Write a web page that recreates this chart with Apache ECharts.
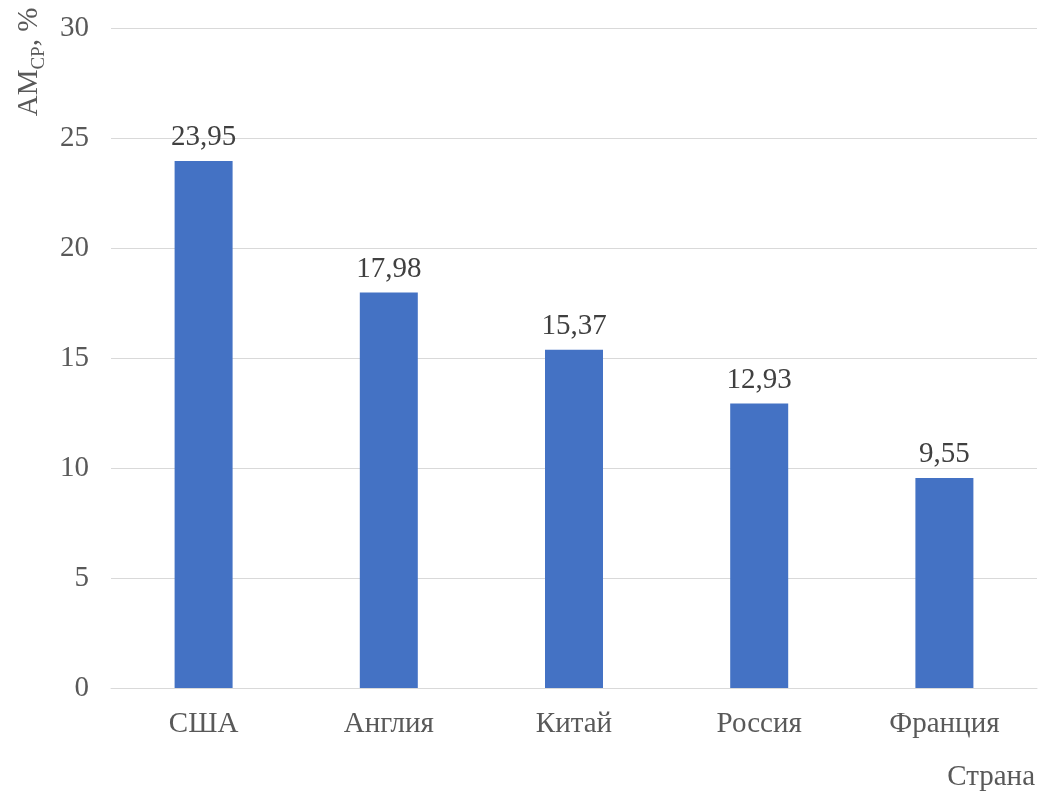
<!DOCTYPE html>
<html><head><meta charset="utf-8">
<script src="https://cdn.jsdelivr.net/npm/echarts@6/dist/echarts.min.js"></script>
<style>html,body{margin:0;padding:0;background:#fff}#c{width:1038px;height:793px}</style>
</head><body><div id="c"></div>
<script>
const categories = ['США', 'Англия', 'Китай', 'Россия', 'Франция'];
const values = [23.95, 17.98, 15.37, 12.93, 9.55];
const yTicks = [0, 5, 10, 15, 20, 25, 30];
const xTitle = 'Страна';

const FONT = '"Liberation Serif", "Times New Roman", serif';
const FS = 29;
const chart = echarts.init(document.getElementById('c'), null, {renderer: 'canvas'});
chart.setOption({
  animation: false,
  backgroundColor: '#fff',
  grid: {left: 111, right: 1, top: 28, bottom: 105, containLabel: false},
  xAxis: {
    type: 'category', data: categories,
    axisLine: {show: true, lineStyle: {color: '#D9D9D9', width: 1}},
    axisTick: {show: false},
    axisLabel: {color: '#595959', fontFamily: FONT, fontSize: FS, margin: 22}
  },
  yAxis: {
    type: 'value', min: yTicks[0], max: yTicks[yTicks.length - 1], interval: 5,
    axisLine: {show: false}, axisTick: {show: false},
    splitLine: {lineStyle: {color: '#D9D9D9', width: 1}},
    axisLabel: {color: '#595959', fontFamily: FONT, fontSize: FS, margin: 22}
  },
  series: [{
    type: 'bar', data: values, barWidth: 58,
    itemStyle: {color: '#4472C4'},
    label: {
      show: true, position: 'top', distance: 9,
      color: '#404040', fontFamily: FONT, fontSize: FS,
      formatter: p => p.value.toFixed(2).replace('.', ',')
    }
  }],
  graphic: [
    {
      type: 'text', x: 1035, y: 777,
      style: {text: xTitle, fill: '#595959', font: FS + 'px ' + FONT, align: 'right', verticalAlign: 'middle'}
    },
    {
      type: 'text', x: 28, y: 62, rotation: Math.PI / 2,
      style: {
        text: '{a|AM}{s|CP}{a|, %}',
        align: 'center', verticalAlign: 'middle',
        rich: {
          a: {fontFamily: FONT, fontSize: FS, fill: '#595959', verticalAlign: 'bottom', lineHeight: 32},
          s: {fontFamily: FONT, fontSize: 19, fill: '#595959', verticalAlign: 'bottom', lineHeight: 22, padding: [0, 0, -5, 0]}
        }
      }
    }
  ]
});
</script></body></html>
